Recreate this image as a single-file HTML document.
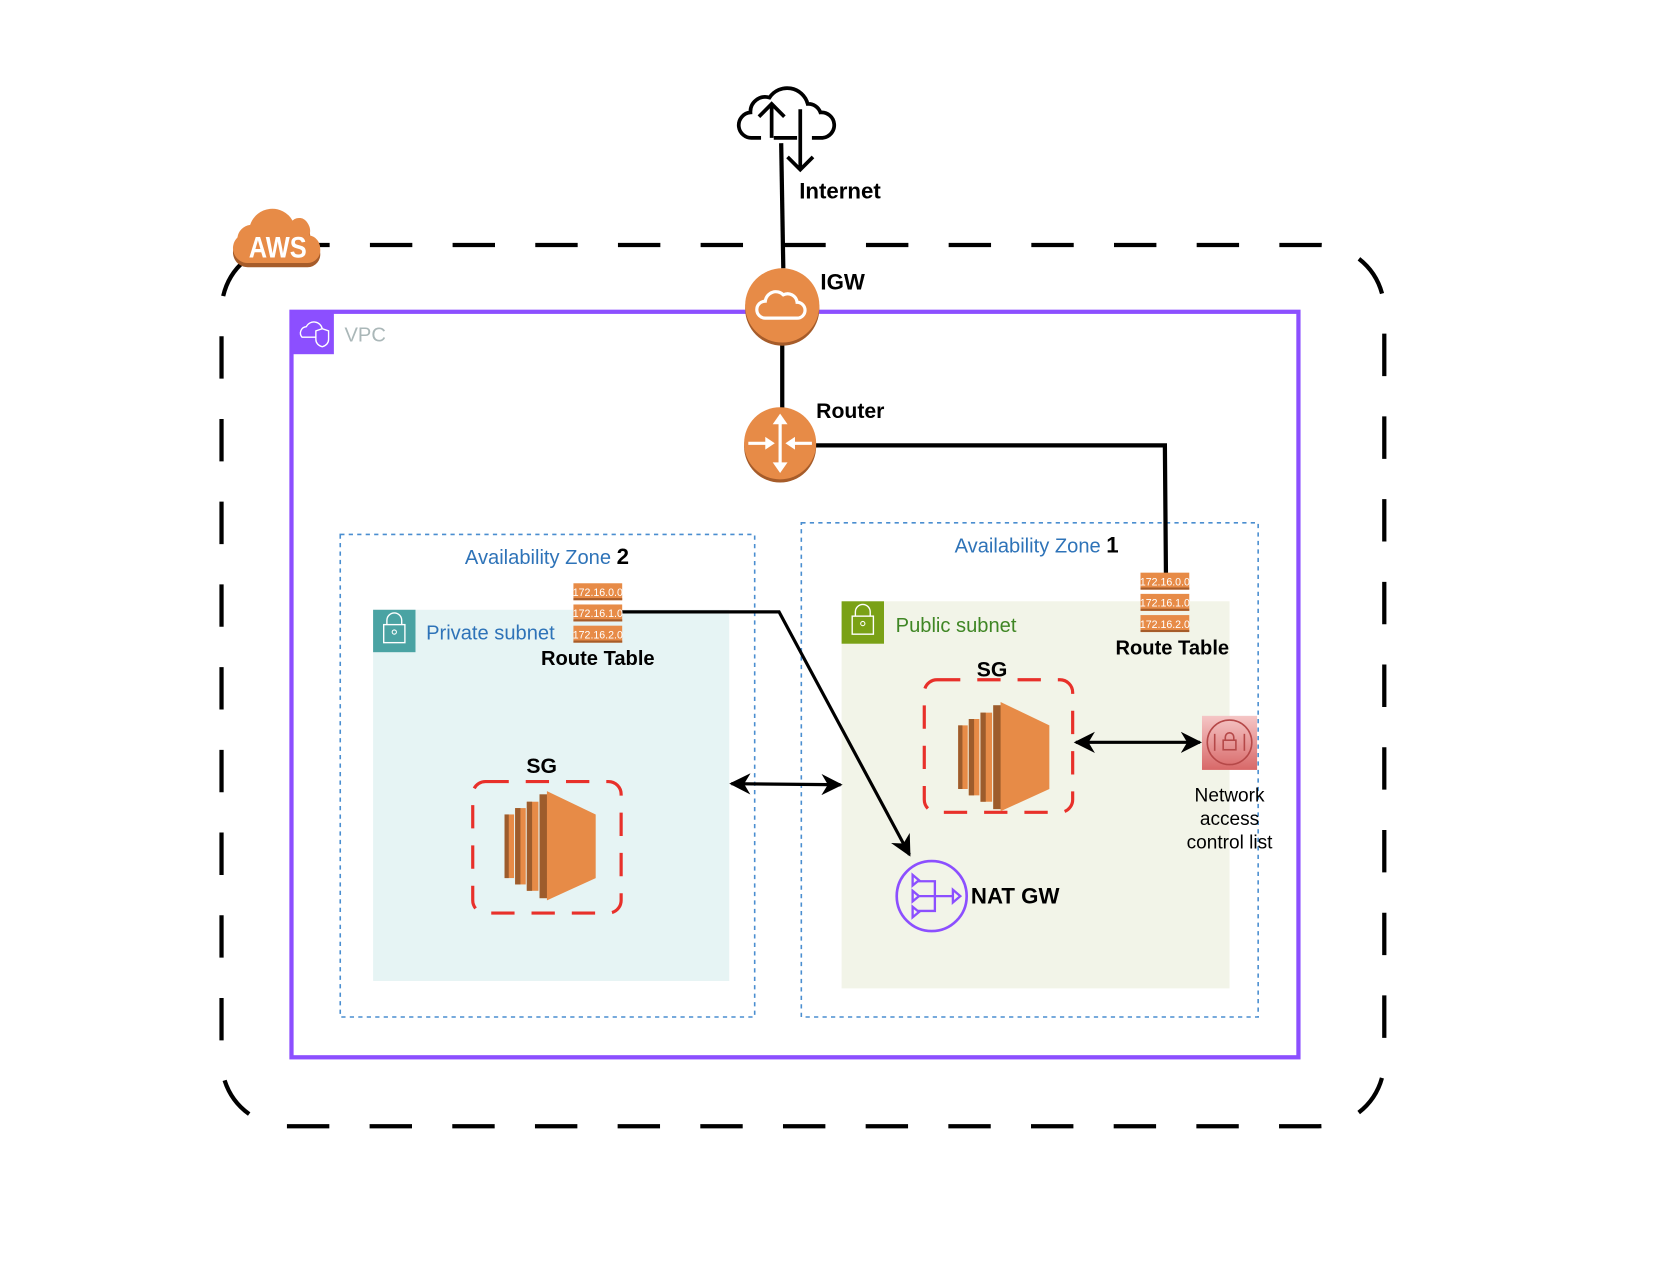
<!DOCTYPE html>
<html><head><meta charset="utf-8"><style>
html,body{margin:0;padding:0;background:#fff;}
svg{display:block;}
text{font-family:"Liberation Sans",Arial,sans-serif;}
</style></head><body>
<svg width="1662" height="1280" viewBox="0 0 1568 1207" preserveAspectRatio="none" xmlns="http://www.w3.org/2000/svg">
<defs>
<marker id="ah2" viewBox="0 0 20 20" refX="18" refY="10" markerWidth="20" markerHeight="20" orient="auto-start-reverse" markerUnits="userSpaceOnUse">
<path d="M0,0 L20,10 L0,20 L6,10 Z" fill="#000"/></marker>
<linearGradient id="nacl" x1="0" y1="0" x2="0" y2="1"><stop offset="0" stop-color="#f5c6c6"/><stop offset="1" stop-color="#d86868"/></linearGradient>
<g id="ec2">
<rect x="0" y="22" width="9" height="60" fill="#e78b47"/><rect x="0" y="22" width="4" height="60" fill="#9d5c2c"/>
<rect x="10" y="16" width="10" height="72" fill="#e78b47"/><rect x="10" y="16" width="5" height="72" fill="#9d5c2c"/>
<rect x="21" y="10" width="11" height="84" fill="#e78b47"/><rect x="21" y="10" width="5" height="84" fill="#9d5c2c"/>
<rect x="33" y="3" width="8" height="98" fill="#9d5c2c"/>
<polygon points="40,0 86,22 86,82 40,103" fill="#e78b47"/>
</g>
</defs>

<rect x="209" y="231" width="1097" height="831" rx="62" fill="none" stroke="#000" stroke-width="4" stroke-dasharray="40,38"/>

<rect x="275" y="294" width="950" height="703" fill="none" stroke="#8c4fff" stroke-width="4"/>
<rect x="275" y="294" width="40" height="40" fill="#8c4fff"/>
<path d="M285,318 a6,6 0 0 1 4,-10 a8,8 0 0 1 15,2 a5,5 0 0 1 2,8 Z" fill="none" stroke="#fff" stroke-width="1.3"/>
<path d="M298,312 l6,-2 l6,2 v8 q0,5 -6,7 q-6,-2 -6,-7 Z" fill="#8c4fff" stroke="#fff" stroke-width="1.3"/>
<text x="325" y="322" font-size="19" fill="#aab7b8">VPC</text>

<rect x="321" y="504" width="391" height="455" fill="none" stroke="#4a8ed0" stroke-width="1.5" stroke-dasharray="4,4"/>
<rect x="756" y="493" width="431" height="466" fill="none" stroke="#4a8ed0" stroke-width="1.5" stroke-dasharray="4,4"/>
<text x="516" y="532" font-size="19" fill="#2e73b8" text-anchor="middle">Availability Zone <tspan fill="#000" font-weight="bold" font-size="21">2</tspan></text>
<text x="978" y="521" font-size="19" fill="#2e73b8" text-anchor="middle">Availability Zone <tspan fill="#000" font-weight="bold" font-size="21">1</tspan></text>

<rect x="352" y="575" width="336" height="350" fill="#e6f4f4"/>
<rect x="352" y="575" width="40" height="40" fill="#4aa3a3"/>
<rect x="362" y="589" width="20" height="17" fill="none" stroke="#fff" stroke-width="1.3"/><path d="M365,589 v-4 a7,7 0 0 1 14,0 v4" fill="none" stroke="#fff" stroke-width="1.3"/><circle cx="372" cy="596" r="2" fill="none" stroke="#fff"/>
<text x="402" y="603" font-size="19" fill="#2e73b8">Private subnet</text>

<rect x="794" y="567" width="366" height="365" fill="#f2f4e8"/>
<rect x="794" y="567" width="40" height="40" fill="#7aa116"/>
<rect x="804" y="581" width="20" height="17" fill="none" stroke="#fff" stroke-width="1.3"/><path d="M807,581 v-4 a7,7 0 0 1 14,0 v4" fill="none" stroke="#fff" stroke-width="1.3"/><circle cx="814" cy="588" r="2" fill="none" stroke="#fff"/>
<text x="845" y="596" font-size="19" fill="#3f8624">Public subnet</text>

<line x1="737" y1="135" x2="739" y2="253" stroke="#000" stroke-width="4"/>
<line x1="738" y1="320" x2="738" y2="390" stroke="#000" stroke-width="4"/>
<polyline points="768,420 1099,420 1100,542" fill="none" stroke="#000" stroke-width="4"/>
<polyline points="587,577 735,577 858,806" fill="none" stroke="#000" stroke-width="3" marker-end="url(#ah2)"/>
<line x1="690" y1="739" x2="793" y2="740" stroke="#000" stroke-width="3" marker-start="url(#ah2)" marker-end="url(#ah2)"/>
<line x1="1015" y1="700" x2="1132" y2="700" stroke="#000" stroke-width="3" marker-start="url(#ah2)" marker-end="url(#ah2)"/>

<path d="M718,130 h-8 a12,12 0 0 1 -2,-24 a14,14 0 0 1 18,-14 a20,20 0 0 1 36,6 a12,12 0 0 1 12,8 a12,12 0 0 1 2,24 h-10" fill="none" stroke="#000" stroke-width="3.5"/>
<line x1="728" y1="130" x2="728" y2="100" stroke="#000" stroke-width="3.5"/><polyline points="716,110 728,98 740,110" fill="none" stroke="#000" stroke-width="3.5"/>
<line x1="755" y1="103" x2="755" y2="160" stroke="#000" stroke-width="3.5"/><polyline points="743,148 755,160 767,148" fill="none" stroke="#000" stroke-width="3.5"/>
<line x1="730" y1="130" x2="752" y2="130" stroke="#000" stroke-width="3.5"/>
<text x="754" y="187" font-size="21" font-weight="bold">Internet</text>

<circle cx="738" cy="291" r="35" fill="#a65c2a"/>
<circle cx="738" cy="288" r="35" fill="#e78b47"/>
<path d="M722,300 a8,8 0 0 1 0,-16 a10,10 0 0 1 17,-6 a9,9 0 0 1 13,7 a7,7 0 0 1 0,15 Z" fill="none" stroke="#fff" stroke-width="3"/>
<text x="774" y="273" font-size="21" font-weight="bold">IGW</text>

<circle cx="736" cy="421" r="34" fill="#a65c2a"/>
<circle cx="736" cy="418" r="34" fill="#e78b47"/>
<g stroke="#fff" stroke-width="3" fill="#fff">
<line x1="736" y1="396" x2="736" y2="442"/><polygon points="729,400 736,390 743,400" stroke="none"/><polygon points="729,436 736,446 743,436" stroke="none"/>
<line x1="706" y1="418" x2="724" y2="418"/><polygon points="722,412 731,418 722,424" stroke="none"/>
<line x1="766" y1="418" x2="748" y2="418"/><polygon points="750,412 741,418 750,424" stroke="none"/>
</g>
<text x="770" y="394" font-size="20" font-weight="bold">Router</text>

<path d="M234,252 a14,14 0 0 1 -10,-24 a14,14 0 0 1 12,-12 a22,22 0 0 1 40,-4 a9,9 0 0 1 14,2 a14,14 0 0 1 2,12 a12,12 0 0 1 10,12 a12,12 0 0 1 -12,14 Z" fill="#a65c2a"/>
<path d="M234,248 a14,14 0 0 1 -10,-24 a14,14 0 0 1 12,-12 a22,22 0 0 1 40,-4 a9,9 0 0 1 14,2 a14,14 0 0 1 2,12 a12,12 0 0 1 10,12 a12,12 0 0 1 -12,14 Z" fill="#e78b47"/>
<text x="262" y="243" font-size="24" fill="#fff" text-anchor="middle" font-weight="bold" transform="scale(1,1.15) translate(0,-32)">AWS</text>

<g font-size="10" fill="#fff" text-anchor="middle">
<rect x="541" y="550" width="46" height="16" fill="#e78b47"/><rect x="541" y="564" width="46" height="2" fill="#a65c2a"/><text x="564" y="562">172.16.0.0</text>
<rect x="541" y="570" width="46" height="16" fill="#e78b47"/><rect x="541" y="584" width="46" height="2" fill="#a65c2a"/><text x="564" y="582">172.16.1.0</text>
<rect x="541" y="590" width="46" height="16" fill="#e78b47"/><rect x="541" y="604" width="46" height="2" fill="#a65c2a"/><text x="564" y="602">172.16.2.0</text>
<rect x="1076" y="540" width="46" height="16" fill="#e78b47"/><rect x="1076" y="554" width="46" height="2" fill="#a65c2a"/><text x="1099" y="552">172.16.0.0</text>
<rect x="1076" y="560" width="46" height="16" fill="#e78b47"/><rect x="1076" y="574" width="46" height="2" fill="#a65c2a"/><text x="1099" y="572">172.16.1.0</text>
<rect x="1076" y="580" width="46" height="16" fill="#e78b47"/><rect x="1076" y="594" width="46" height="2" fill="#a65c2a"/><text x="1099" y="592">172.16.2.0</text>
</g>
<text x="564" y="627" font-size="19" font-weight="bold" text-anchor="middle">Route Table</text>
<text x="1106" y="617" font-size="19" font-weight="bold" text-anchor="middle">Route Table</text>

<rect x="446" y="737" width="140" height="124" rx="12" fill="none" stroke="#e8302a" stroke-width="3" stroke-dasharray="22,16"/>
<text x="511" y="729" font-size="20" font-weight="bold" text-anchor="middle">SG</text>
<use href="#ec2" x="476" y="746"/>
<rect x="872" y="641" width="140" height="125" rx="12" fill="none" stroke="#e8302a" stroke-width="3" stroke-dasharray="22,16"/>
<text x="936" y="638" font-size="20" font-weight="bold" text-anchor="middle">SG</text>
<use href="#ec2" x="904" y="662"/>

<rect x="1134" y="675" width="52" height="51" fill="url(#nacl)"/>
<circle cx="1160" cy="700" r="21" fill="none" stroke="#b54848" stroke-width="1.5"/>
<rect x="1154" y="698" width="12" height="9" fill="none" stroke="#b54848" stroke-width="1.5"/><path d="M1156,698 v-3 a4,4 0 0 1 8,0 v3" fill="none" stroke="#b54848" stroke-width="1.5"/>
<line x1="1146" y1="692" x2="1146" y2="708" stroke="#b54848" stroke-width="1.5"/><line x1="1174" y1="692" x2="1174" y2="708" stroke="#b54848" stroke-width="1.5"/>
<text x="1160" y="756" font-size="18" text-anchor="middle">Network</text>
<text x="1160" y="778" font-size="18" text-anchor="middle">access</text>
<text x="1160" y="800" font-size="18" text-anchor="middle">control list</text>

<circle cx="879" cy="845" r="33" fill="none" stroke="#8c4fff" stroke-width="2.5"/>
<g fill="none" stroke="#8c4fff" stroke-width="2.2">
<polyline points="866,831 882,831 882,859 866,859"/><line x1="866" y1="845" x2="899" y2="845"/>
<polygon points="861,825 867,830 861,835"/><polygon points="861,840 867,845 861,850"/><polygon points="861,855 867,860 861,865"/>
<polygon points="899,839 906,845 899,851"/>
</g>
<text x="916" y="852" font-size="21" font-weight="bold">NAT GW</text>
</svg>
</body></html>
